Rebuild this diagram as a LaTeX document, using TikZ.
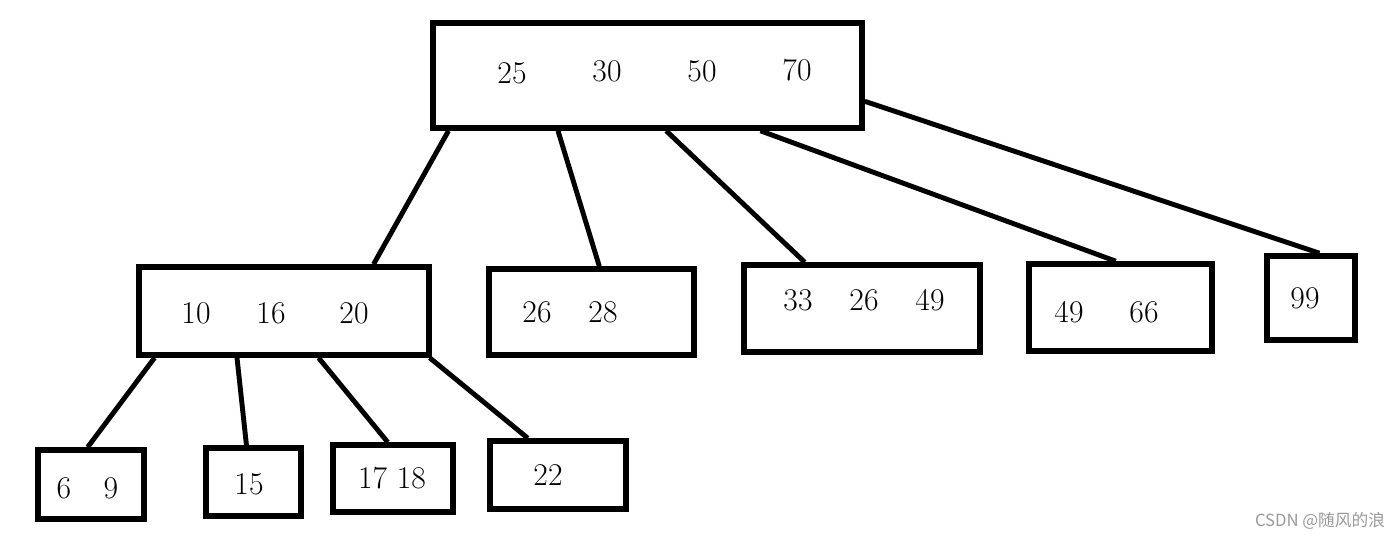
\documentclass[tikz,border=0pt]{standalone}
\usepackage{fontspec}
\newfontfamily\cjk{Noto Sans CJK SC}
\usetikzlibrary{calc}

\begin{document}
\begin{tikzpicture}[x=0.02cm,y=-0.02cm,
 keybox/.style={draw,line width=3.2pt,inner sep=0pt},
 num/.style={inner sep=0pt,font=\fontsize{18}{21}\selectfont},
 link/.style={line width=2.8pt}]
\useasboundingbox (0,0) rectangle (1400,539);
% boxes
\node[keybox,minimum width=8.58cm,minimum height=2.10cm] (root) at (647.5,75.5) {};
\node[keybox,minimum width=5.80cm,minimum height=1.76cm] (a) at (284,311) {};
\node[keybox,minimum width=4.10cm,minimum height=1.72cm] (b) at (591.5,312) {};
\node[keybox,minimum width=4.72cm,minimum height=1.74cm] (c) at (862,308.5) {};
\node[keybox,minimum width=3.66cm,minimum height=1.74cm] (d) at (1120.5,307.5) {};
\node[keybox,minimum width=1.76cm,minimum height=1.68cm] (e) at (1311,298) {};
\node[keybox,minimum width=2.12cm,minimum height=1.38cm] (l1) at (91,484.5) {};
\node[keybox,minimum width=1.90cm,minimum height=1.36cm] (l2) at (253.5,482) {};
\node[keybox,minimum width=2.40cm,minimum height=1.34cm] (l3) at (393,478.5) {};
\node[keybox,minimum width=2.72cm,minimum height=1.36cm] (l4) at (558,475) {};
% keys
\node[num] (r1) at (512,73) {25};
\node[num] (r2) at (607,71) {30};
\node[num] (r3) at (702,71) {50};
\node[num] (r4) at (797,70) {70};
\node[num] (a1) at (196,313) {10};
\node[num] (a2) at (271,313) {16};
\node[num] (a3) at (354,313) {20};
\node[num] (b1) at (537,312) {26};
\node[num] (b2) at (603,312) {28};
\node[num] (c1) at (798,300) {33};
\node[num] (c2) at (864,300) {26};
\node[num] (c3) at (930,300) {49};
\node[num] (d1) at (1069,312) {49};
\node[num] (d2) at (1144,312) {66};
\node[num] (e1) at (1305,298) {99};
\node[num] (l1a) at (64,488) {6};
\node[num] (l1b) at (111,488) {9};
\node[num] (l2a) at (249,484) {15};
\node[num] (l3a) at (392,478) {17 18};
\node[num] (l4a) at (548,475) {22};
% links
\draw[link] ($(root.south west)!.042!(root.south east)$) -- ($(a.north west)!.803!(a.north east)$);
\draw[link] ($(root.south west)!.294!(root.south east)$) -- ($(b.north west)!.537!(b.north east)$);
\draw[link] ($(root.south west)!.543!(root.south east)$) -- ($(c.north west)!.263!(c.north east)$);
\draw[link] ($(root.south west)!.760!(root.south east)$) -- ($(d.north west)!.475!(d.north east)$);
\draw[link] ($(root.north east)!.733!(root.south east)$) -- ($(e.north west)!.59!(e.north east)$);
\draw[link] ($(a.south west)!.062!(a.south east)$) -- ($(l1.north west)!.47!(l1.north east)$);
\draw[link] ($(a.south west)!.341!(a.south east)$) -- ($(l2.north west)!.43!(l2.north east)$);
\draw[link] ($(a.south west)!.617!(a.south east)$) -- ($(l3.north west)!.458!(l3.north east)$);
\draw[link] ($(a.south west)!.993!(a.south east)$) -- ($(l4.north west)!.287!(l4.north east)$);
% watermark
\node[text=gray!80,font=\cjk\fontsize{9.5}{11}\selectfont,inner sep=0pt] (mark) at (1320,521) {CSDN @随风的浪};
\end{tikzpicture}
\end{document}
